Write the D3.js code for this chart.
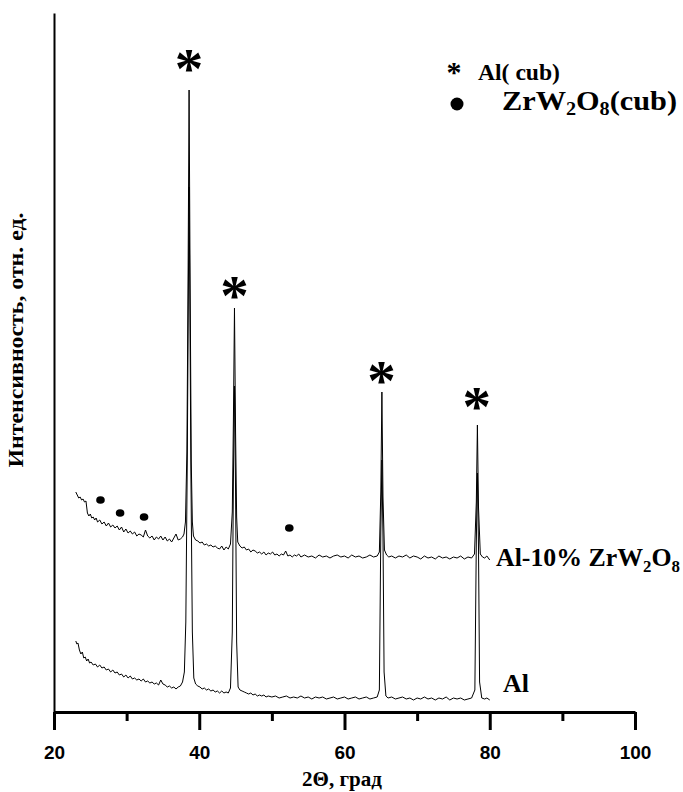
<!DOCTYPE html>
<html>
<head>
<meta charset="utf-8">
<script src="https://cdn.jsdelivr.net/npm/d3@7"></script>
<style>
  body { margin: 0; background: #fff; }
  svg { display: block; }
</style>
</head>
<body>
<div id="chart"></div>
<script>

// tick labels on x axis
var majorTicks = [20, 40, 60, 80, 100];
var minorTicks = [30, 50, 70, 90];

// Al-10% ZrW2O8 pattern, [2theta, intensity]
var compositeScan = [
  [23.0,220],[23.2,217],[23.4,214],[23.6,215],[23.8,212],[24.0,213],[24.2,210],[24.4,211],
  [24.6,199],[24.8,196],[25.0,198],[25.2,194],[25.4,195],[25.6,192],[25.8,194],[26.0,190],
  [26.3,192],[26.6,188],[26.9,190],[27.2,186],[27.5,189],[27.8,185],[28.1,187],[28.4,184],
  [28.7,186],[29.0,182],[29.3,185],[29.6,180],[29.9,183],[30.2,179],[30.5,181],[30.8,178],
  [31.1,180],[31.4,176],[31.7,178],[32.0,177],[32.3,175],[32.6,182],[32.9,176],[33.2,174],
  [33.5,176],[33.8,172],[34.1,175],[34.4,173],[34.7,176],[35.0,172],[35.3,175],[35.6,171],
  [35.9,173],[36.2,170],[36.5,174],[36.8,178],[37.1,172],[37.4,173],[37.7,175],[37.9,178],
  [38.1,190],[38.3,260],[38.45,420],[38.6,622],[38.75,420],[38.9,250],[39.05,190],[39.2,176],
  [39.5,172],[39.8,171],[40.1,169],[40.4,170],[40.7,167],[41.0,168],[41.3,166],[41.6,167],
  [41.9,165],[42.2,166],[42.5,164],[42.8,163],[43.1,166],[43.4,162],[43.7,165],[44.0,163],
  [44.3,168],[44.55,200],[44.7,290],[44.85,404],[45.0,280],[45.15,195],[45.3,170],[45.6,166],
  [45.9,164],[46.2,165],[46.5,162],[46.8,163],[47.1,160],[47.4,162],[47.7,161],[48.0,159],
  [48.3,160],[48.6,158],[48.9,160],[49.2,157],[49.5,159],[49.8,158],[50.1,160],[50.4,157],
  [50.7,158],[51.0,156],[51.3,158],[51.6,157],[51.9,161],[52.2,156],[52.5,157],[52.8,155],
  [53.1,157],[53.4,156],[53.7,158],[54.0,155],[54.5,157],[55.0,155],[55.5,156],[56.0,154],
  [56.5,157],[57.0,155],[57.5,156],[58.0,154],[58.5,156],[59.0,157],[59.5,155],[60.0,156],
  [60.5,154],[61.0,157],[61.5,155],[62.0,156],[62.5,154],[63.0,155],[63.5,157],[64.0,155],
  [64.5,156],[64.8,160],[65.0,220],[65.15,320],[65.3,215],[65.5,162],[65.8,157],[66.1,155],
  [66.5,156],[67.0,154],[67.5,156],[68.0,155],[68.5,157],[69.0,154],[69.5,156],[70.0,155],
  [70.5,153],[71.0,156],[71.5,154],[72.0,155],[72.5,153],[73.0,156],[73.5,154],[74.0,155],
  [74.5,153],[75.0,155],[75.5,154],[76.0,156],[76.5,153],[77.0,155],[77.5,154],[77.9,158],
  [78.15,210],[78.3,287],[78.45,205],[78.7,158],[79.0,155],[79.3,154],[79.6,156],[80.0,152]
];

// pure Al pattern
var alScan = [
  [23.0,71],[23.15,68],[23.3,69],[23.5,62],[23.7,58],[23.9,60],[24.1,54],[24.3,55],
  [24.5,51],[24.7,53],[24.9,49],[25.1,50],[25.4,47],[25.7,48],[26.0,45],[26.3,47],
  [26.6,44],[26.9,45],[27.2,42],[27.5,43],[27.8,40],[28.1,42],[28.4,39],[28.7,40],
  [29.0,37],[29.3,38],[29.6,35],[29.9,37],[30.2,34],[30.5,36],[30.8,33],[31.1,34],
  [31.4,32],[31.7,33],[32.0,31],[32.3,33],[32.6,30],[32.9,31],[33.2,29],[33.5,30],
  [33.8,28],[34.1,29],[34.4,27],[34.7,32],[35.0,28],[35.3,27],[35.6,25],[35.9,26],
  [36.2,24],[36.5,25],[36.8,23],[37.1,25],[37.4,26],[37.7,30],[37.95,40],[38.15,90],
  [38.35,250],[38.5,420],[38.6,525],[38.7,420],[38.85,240],[39.05,80],[39.25,34],[39.5,28],
  [39.8,26],[40.1,25],[40.4,23],[40.7,24],[41.0,22],[41.3,23],[41.6,21],[41.9,22],
  [42.2,20],[42.5,21],[42.8,19],[43.1,21],[43.4,19],[43.7,20],[44.0,19],[44.3,24],
  [44.55,80],[44.7,230],[44.85,326],[45.0,220],[45.15,70],[45.35,25],[45.6,22],[45.9,21],
  [46.2,20],[46.5,19],[46.8,18],[47.1,19],[47.4,17],[47.7,18],[48.0,16],[48.3,17],
  [48.6,16],[48.9,17],[49.2,15],[49.5,16],[50.0,15],[50.5,16],[51.0,14],[51.5,15],
  [52.0,16],[52.5,14],[53.0,15],[53.5,14],[54.0,16],[54.5,14],[55.0,15],[55.5,13],
  [56.0,15],[56.5,14],[57.0,15],[57.5,13],[58.0,14],[58.5,15],[59.0,13],[59.5,14],
  [60.0,15],[60.5,13],[61.0,14],[61.5,15],[62.0,13],[62.5,14],[63.0,15],[63.5,13],
  [64.0,14],[64.5,15],[64.8,22],[65.0,180],[65.15,252],[65.3,175],[65.45,40],[65.7,16],
  [66.0,14],[66.5,15],[67.0,13],[67.5,14],[68.0,15],[68.5,13],[69.0,14],[69.5,12],
  [70.0,14],[70.5,13],[71.0,15],[71.5,13],[72.0,14],[72.5,12],[73.0,14],[73.5,13],
  [74.0,15],[74.5,12],[75.0,14],[75.5,13],[76.0,14],[76.5,12],[77.0,13],[77.5,14],
  [77.95,22],[78.15,170],[78.3,239],[78.45,165],[78.6,30],[78.9,14],[79.3,13],[79.6,14],
  [80.0,12]
];

// phase markers: Al (asterisk) and ZrW2O8 (dot), [2theta, intensity]
var alMarks = [[38.6,652],[44.85,425],[65.1,340],[78.2,314]];
var zrMarks = [[26.4,212],[29.1,199],[32.4,195],[52.4,184]];

// curve labels [text, 2theta, intensity]
var curveLabels = [["Al-10% ZrW", 78.7, 146], ["Al", 78.5, 20]];

var width = 683, height = 792;

var svg = d3.select("#chart").append("svg")
    .attr("width", width)
    .attr("height", height)
    .style("background", "#fff");

var x = d3.scaleLinear().domain([20, 100]).range([54, 635]);
var y = d3.scaleLinear().domain([0, 699]).range([712, 13]);

var serif = "'Liberation Serif', 'Times New Roman', serif";
var sans = "'Liberation Sans', Arial, sans-serif";

// traces
var line = d3.line()
    .x(function (d) { return x(d[0]); })
    .y(function (d) { return y(d[1]); });

svg.append("g")
    .selectAll("path")
    .data([compositeScan, alScan])
    .enter()
    .append("path")
    .attr("d", line)
    .attr("fill", "none")
    .attr("stroke", "#000")
    .attr("stroke-width", 1)
    .attr("stroke-linejoin", "round");

// x axis, major then minor ticks
var xAxis = svg.append("g")
    .attr("transform", "translate(0," + y(0) + ")")
    .call(d3.axisBottom(x).tickValues(majorTicks).tickSize(18).tickSizeOuter(0).tickFormat(d3.format("d")));

xAxis.select(".domain").attr("stroke-width", 3);
xAxis.selectAll(".tick line").attr("stroke-width", 3);
xAxis.selectAll(".tick text")
    .attr("y", 47)
    .attr("dy", 0)
    .attr("font-family", sans)
    .attr("font-weight", "bold")
    .attr("font-size", 19)
    .attr("fill", "#000");

var xMinor = svg.append("g")
    .attr("transform", "translate(0," + y(0) + ")")
    .call(d3.axisBottom(x).tickValues(minorTicks).tickSize(9).tickFormat(""));
xMinor.select(".domain").remove();
xMinor.selectAll(".tick line").attr("stroke-width", 3);

// y axis has no ticks, just the line
var yAxis = svg.append("g")
    .attr("transform", "translate(" + x(20) + ",0)")
    .call(d3.axisLeft(y).tickValues([]).tickSizeOuter(0));
yAxis.select(".domain").attr("stroke-width", 2);

// axis titles
svg.append("text")
    .attr("x", 342)
    .attr("y", 786)
    .attr("text-anchor", "middle")
    .attr("font-family", serif)
    .attr("font-weight", "bold")
    .attr("font-size", 20)
    .attr("textLength", 80)
    .attr("lengthAdjust", "spacingAndGlyphs")
    .text("2\u0398, град");

svg.append("text")
    .attr("transform", "translate(23,340) rotate(-90)")
    .attr("text-anchor", "middle")
    .attr("font-family", serif)
    .attr("font-weight", "bold")
    .attr("font-size", 20)
    .attr("textLength", 255)
    .attr("lengthAdjust", "spacingAndGlyphs")
    .text("Интенсивность, отн. ед.");

// asterisks over Al reflections
svg.append("g")
    .selectAll("text")
    .data(alMarks)
    .enter()
    .append("text")
    .attr("x", function (d) { return x(d[0]); })
    .attr("y", function (d) { return y(d[1]) + 28; })
    .attr("text-anchor", "middle")
    .attr("font-family", serif)
    .attr("font-weight", "bold")
    .attr("font-size", 57)
    .text("*");

// dots over ZrW2O8 reflections
svg.append("g")
    .selectAll("ellipse")
    .data(zrMarks)
    .enter()
    .append("ellipse")
    .attr("cx", function (d) { return x(d[0]); })
    .attr("cy", function (d) { return y(d[1]); })
    .attr("rx", 4.3)
    .attr("ry", 3.8)
    .attr("fill", "#000");

// curve labels, subscripts done with tspans
var lab = svg.append("g")
    .attr("font-family", serif)
    .attr("font-weight", "bold")
    .attr("font-size", 26);

var t1 = lab.append("text")
    .attr("x", 496)
    .attr("y", y(curveLabels[0][2]))
    .attr("textLength", 184)
    .attr("lengthAdjust", "spacingAndGlyphs");
t1.append("tspan").text(curveLabels[0][0]);
t1.append("tspan").attr("font-size", 17).attr("dy", 6).text("2");
t1.append("tspan").attr("dy", -6).text("O");
t1.append("tspan").attr("font-size", 17).attr("dy", 6).text("8");

lab.append("text")
    .attr("x", 503)
    .attr("y", y(curveLabels[1][2]))
    .attr("font-size", 26)
    .text(curveLabels[1][0]);

// legend
var legend = svg.append("g")
    .attr("font-family", serif)
    .attr("font-weight", "bold");

legend.append("text")
    .attr("x", 454)
    .attr("y", 82)
    .attr("text-anchor", "middle")
    .attr("font-size", 30)
    .text("*");
legend.append("text")
    .attr("x", 478)
    .attr("y", 80)
    .attr("font-size", 23)
    .attr("textLength", 82)
    .attr("lengthAdjust", "spacingAndGlyphs")
    .text("Al( cub)");

legend.append("circle")
    .attr("cx", 457)
    .attr("cy", 104)
    .attr("r", 6.5)
    .attr("fill", "#000");

var t2 = legend.append("text")
    .attr("x", 502)
    .attr("y", 110)
    .attr("font-size", 27)
    .attr("textLength", 175)
    .attr("lengthAdjust", "spacingAndGlyphs");
t2.append("tspan").text("ZrW");
t2.append("tspan").attr("font-size", 18).attr("dy", 5).text("2");
t2.append("tspan").attr("dy", -5).text("O");
t2.append("tspan").attr("font-size", 18).attr("dy", 5).text("8");
t2.append("tspan").attr("dy", -5).text("(cub)");

</script>
</body>
</html>
